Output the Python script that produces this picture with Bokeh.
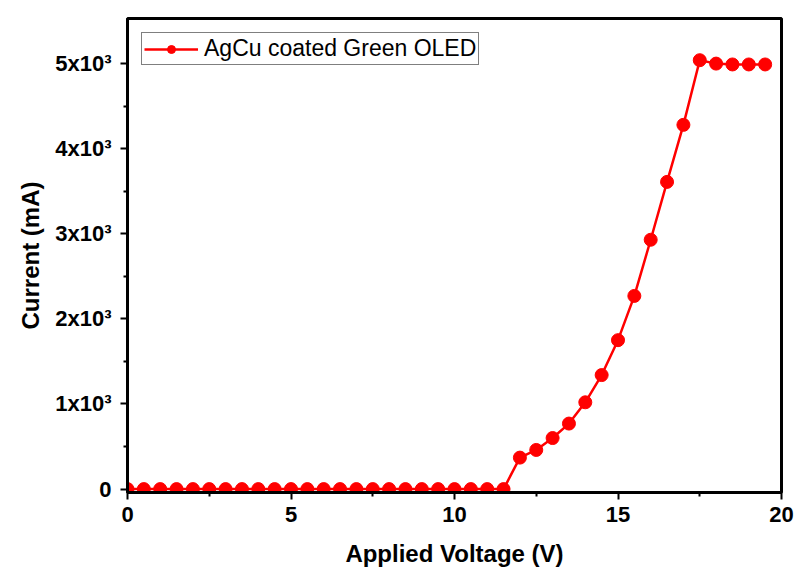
from bokeh.plotting import figure
from bokeh.models import Range1d, Legend, LegendItem, FixedTicker
from bokeh.embed import file_html
from bokeh.resources import INLINE

voltage = [0, 0.5, 1, 1.5, 2, 2.5, 3, 3.5, 4, 4.5, 5, 5.5, 6, 6.5, 7, 7.5, 8, 8.5, 9, 9.5,
           10, 10.5, 11, 11.5, 12, 12.5, 13, 13.5, 14, 14.5, 15, 15.5, 16, 16.5, 17, 17.5,
           18, 18.5, 19, 19.5]
current = [0, 0, 0, 0, 0, 0, 0, 0, 0, 0, 0, 0, 0, 0, 0, 0, 0, 0, 0, 0,
           0, 0, 0, 0, 370, 460, 600, 770, 1020, 1340, 1750, 2270, 2930, 3610, 4280, 5040,
           5000, 4990, 4990, 4990]

x_ticks = [0, 5, 10, 15, 20]
y_ticks = [0, 1000, 2000, 3000, 4000, 5000]
y_tick_labels = ["0", "1x10³", "2x10³", "3x10³", "4x10³", "5x10³"]
series_label = "AgCu coated Green OLED"

FONT = "Liberation Sans"

p = figure(width=812, height=580, output_backend="svg", toolbar_location=None,
           x_range=Range1d(0, 20), y_range=Range1d(-40, 5530),
           min_border_left=127, min_border_right=31, min_border_top=18, min_border_bottom=88)

p.grid.visible = False
p.outline_line_color = "black"
p.outline_line_width = 3
p.background_fill_color = "white"
p.border_fill_color = "white"

line = p.line(voltage, current, line_color="#ff0000", line_width=2.5)
pts = p.scatter(voltage, current, size=13, fill_color="#ff0000", line_color="#ff0000")

for ax in (p.xaxis[0], p.yaxis[0]):
    ax.axis_line_width = 3
    ax.axis_line_color = "black"
    ax.major_tick_line_width = 2
    ax.minor_tick_line_width = 2
    ax.major_tick_in = 0
    ax.major_tick_out = 7
    ax.minor_tick_in = 0
    ax.minor_tick_out = 4
    ax.major_label_text_font = FONT
    ax.major_label_text_font_style = "bold"
    ax.major_label_text_font_size = "22px"
    ax.major_label_text_color = "black"
    ax.axis_label_text_font = FONT
    ax.axis_label_text_font_style = "bold"
    ax.axis_label_text_font_size = "24px"
    ax.axis_label_text_color = "black"

p.xaxis.ticker = FixedTicker(ticks=x_ticks, minor_ticks=[2.5, 7.5, 12.5, 17.5])
p.yaxis.ticker = FixedTicker(ticks=y_ticks, minor_ticks=[500, 1500, 2500, 3500, 4500])
p.yaxis.major_label_overrides = {t: l for t, l in zip(y_ticks, y_tick_labels)}
p.xaxis.axis_label = "Applied Voltage (V)"
p.yaxis.axis_label = "Current (mA)"
p.xaxis.major_label_standoff = 7
p.yaxis.major_label_standoff = 9
p.xaxis.axis_label_standoff = 15
p.yaxis.axis_label_standoff = 8

legend = Legend(items=[LegendItem(label=series_label, renderers=[line, pts])],
                location="top_left")
legend.label_text_font = FONT
legend.label_text_font_size = "23px"
legend.label_text_color = "black"
legend.border_line_color = "black"
legend.border_line_width = 1
legend.background_fill_alpha = 1
legend.glyph_width = 54
legend.glyph_height = 20
legend.padding = 2
legend.margin = 14
legend.label_standoff = 6
legend.label_height = 22
p.add_layout(legend)

open("out.html", "w").write(file_html(p, INLINE))
